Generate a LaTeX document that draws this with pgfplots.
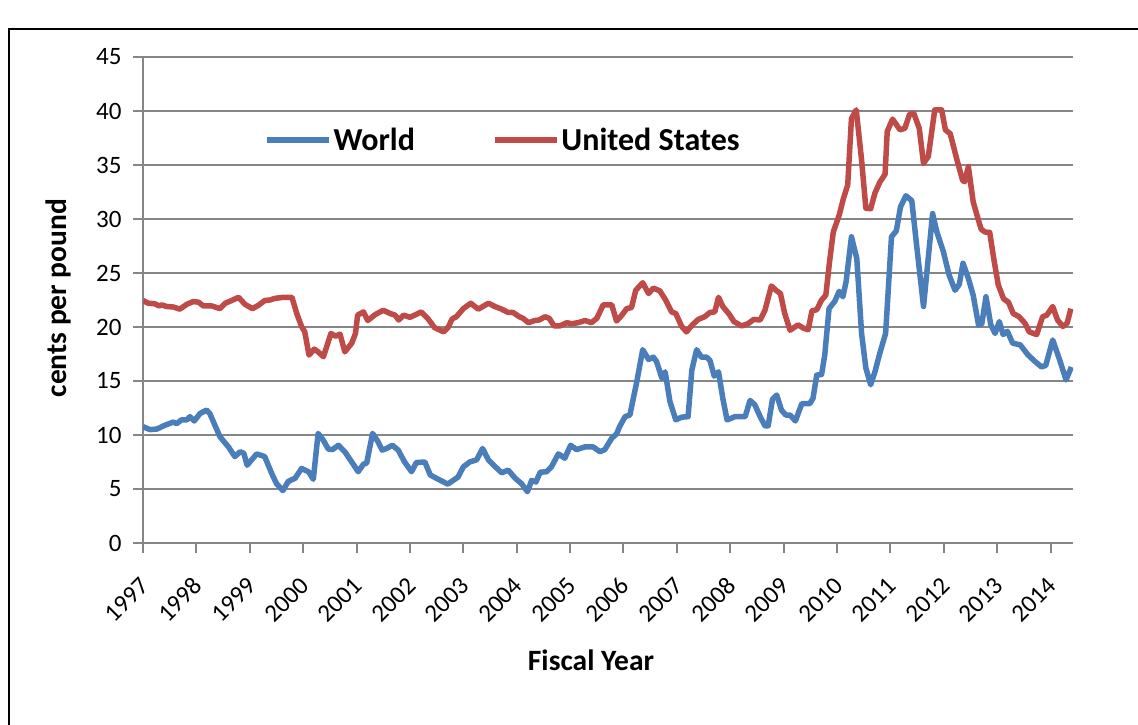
\documentclass[border=0pt]{standalone}
\usepackage{pgfplots}
\pgfplotsset{compat=1.18}
\usepackage{fontspec}
\setmainfont{Carlito}
\definecolor{worldblue}{HTML}{4A7EBB}
\definecolor{usred}{HTML}{BE4B48}
\definecolor{gridgray}{HTML}{868686}
\begin{document}
\begin{tikzpicture}[x=1pt,y=1pt]
\draw[line width=2.2pt] (9,-30) rectangle (1170,696);
\begin{axis}[
  at={(143pt,182pt)}, anchor=south west,
  scale only axis, width=930pt, height=486pt,
  xmin=1997, xmax=2014.42, ymin=0, ymax=45,
  axis lines*=left,
  axis line style={gridgray, line width=2pt},
  xtick={1997,1998,1999,2000,2001,2002,2003,2004,2005,2006,2007,2008,2009,2010,2011,2012,2013,2014},
  xticklabels={1997,1998,1999,2000,2001,2002,2003,2004,2005,2006,2007,2008,2009,2010,2011,2012,2013,2014},
  ytick={0,5,10,15,20,25,30,35,40,45},
  yticklabels={0,5,10,15,20,25,30,35,40,45},
  tick align=outside, major tick length=10pt,
  tick style={gridgray, line width=2pt},
  ymajorgrids, grid style={gridgray, line width=2pt},
  ticklabel style={font=\fontsize{25}{30}\selectfont, text=black},
  xticklabel style={xshift=4pt, yshift=-26pt, rotate=45, anchor=east},
  yticklabel style={xshift=-8pt},
  xlabel={Fiscal Year},
  ylabel={cents per pound},
  xlabel style={at={(axis description cs:0.4817,-0.2407)}, anchor=center, font=\fontsize{29.5}{35}\selectfont\bfseries},
  ylabel style={at={(axis description cs:-0.0914,0.504)}, anchor=center, font=\fontsize{29.5}{35}\selectfont\bfseries},
  legend columns=2,
  legend style={draw=none, fill=none, inner sep=0pt,
    at={(axis description cs:0.130,0.829)}, anchor=west,
    font=\fontsize{32}{38}\selectfont\bfseries,
    /tikz/every even column/.append style={column sep=75pt}},
  legend image code/.code={\draw[#1] (0pt,0pt) -- (62pt,0pt);},
  every axis plot/.append style={line width=5.5pt, line join=round},
]
\addplot[worldblue] coordinates {
(1997.00,10.77) (1997.13,10.5) (1997.26,10.55) (1997.41,10.9) (1997.57,11.2) (1997.63,11.05)
(1997.72,11.4) (1997.82,11.4) (1997.88,11.7) (1997.96,11.3) (1998.07,12.0) (1998.19,12.3)
(1998.25,12.0) (1998.44,9.85) (1998.60,8.9) (1998.72,8.0) (1998.82,8.45) (1998.89,8.3)
(1998.95,7.2) (1999.13,8.25) (1999.28,8.0) (1999.41,6.45) (1999.50,5.5) (1999.62,4.85)
(1999.72,5.7) (1999.85,6.0) (1999.97,6.9) (2000.10,6.6) (2000.19,5.9) (2000.28,10.15)
(2000.38,9.5) (2000.47,8.7) (2000.55,8.65) (2000.66,9.05) (2000.78,8.45) (2000.91,7.5)
(2001.03,6.6) (2001.13,7.3) (2001.19,7.4) (2001.30,10.15) (2001.40,9.4) (2001.48,8.6)
(2001.56,8.75) (2001.67,9.05) (2001.78,8.6) (2001.90,7.5) (2002.03,6.6) (2002.12,7.45)
(2002.28,7.5) (2002.38,6.3) (2002.53,5.9) (2002.71,5.45) (2002.81,5.8) (2002.90,6.1)
(2003.00,7.05) (2003.12,7.5) (2003.25,7.7) (2003.36,8.75) (2003.47,7.7) (2003.59,7.1)
(2003.72,6.5) (2003.84,6.75) (2003.97,6.0) (2004.09,5.5) (2004.20,4.75) (2004.28,5.8)
(2004.36,5.65) (2004.44,6.55) (2004.56,6.6) (2004.65,7.05) (2004.78,8.25) (2004.90,7.85)
(2005.01,9.05) (2005.12,8.65) (2005.28,8.9) (2005.43,8.9) (2005.56,8.45) (2005.65,8.65)
(2005.78,9.7) (2005.87,10.1) (2005.93,10.8) (2006.03,11.7) (2006.12,11.85) (2006.25,14.95)
(2006.36,17.9) (2006.47,17.0) (2006.56,17.2) (2006.62,16.8) (2006.72,15.25) (2006.78,15.85)
(2006.87,13.1) (2006.98,11.4) (2007.09,11.65) (2007.21,11.7) (2007.28,16.0) (2007.37,17.9)
(2007.46,17.2) (2007.56,17.2) (2007.62,16.9) (2007.70,15.45) (2007.78,15.85) (2007.86,13.4)
(2007.94,11.4) (2008.09,11.7) (2008.28,11.7) (2008.37,13.2) (2008.46,12.8) (2008.56,11.7)
(2008.65,10.85) (2008.71,10.85) (2008.79,13.3) (2008.87,13.7) (2008.96,12.3) (2009.04,11.85)
(2009.12,11.85) (2009.22,11.3) (2009.34,12.9) (2009.49,12.9) (2009.55,13.4) (2009.62,15.55)
(2009.71,15.6) (2009.77,17.4) (2009.85,21.7) (2009.96,22.4) (2010.04,23.3) (2010.11,22.8)
(2010.17,24.2) (2010.27,28.35) (2010.37,26.35) (2010.46,19.4) (2010.54,16.2) (2010.63,14.65)
(2010.71,15.85) (2010.80,17.55) (2010.91,19.4) (2011.02,28.35) (2011.11,28.9) (2011.19,31.15)
(2011.29,32.15) (2011.40,31.7) (2011.49,27.6) (2011.62,21.9) (2011.79,30.5) (2011.87,28.8)
(2011.99,27.0) (2012.10,24.8) (2012.21,23.4) (2012.29,23.95) (2012.36,25.9) (2012.46,24.5)
(2012.55,22.95) (2012.65,20.2) (2012.71,20.25) (2012.79,22.8) (2012.88,20.2) (2012.96,19.4)
(2013.04,20.5) (2013.11,19.3) (2013.19,19.6) (2013.29,18.5) (2013.43,18.35) (2013.58,17.4)
(2013.71,16.8) (2013.83,16.3) (2013.91,16.45) (2014.04,18.8) (2014.16,17.1) (2014.29,15.1)
(2014.39,16.3)
};
\addlegendentry{World}
\addplot[usred] coordinates {
(1997.00,22.45) (1997.10,22.2) (1997.22,22.15) (1997.30,21.95) (1997.35,22.05) (1997.44,21.9)
(1997.57,21.85) (1997.69,21.65) (1997.82,22.1) (1997.94,22.35) (1998.04,22.3) (1998.13,21.95)
(1998.29,21.95) (1998.44,21.7) (1998.54,22.2) (1998.66,22.45) (1998.79,22.75) (1998.91,22.1)
(1999.05,21.7) (1999.16,22.0) (1999.28,22.45) (1999.38,22.5) (1999.47,22.65) (1999.63,22.75)
(1999.79,22.75) (1999.88,21.25) (1999.97,20.05) (2000.03,19.55) (2000.11,17.4) (2000.21,17.95)
(2000.28,17.7) (2000.38,17.25) (2000.52,19.4) (2000.61,19.15) (2000.69,19.35) (2000.78,17.7)
(2000.91,18.5) (2000.98,19.4) (2001.02,21.1) (2001.13,21.4) (2001.21,20.6) (2001.35,21.15)
(2001.50,21.55) (2001.63,21.25) (2001.72,21.1) (2001.79,20.65) (2001.88,21.1) (2002.00,20.9)
(2002.09,21.1) (2002.21,21.4) (2002.34,20.75) (2002.46,19.95) (2002.63,19.55) (2002.72,20.0)
(2002.79,20.75) (2002.87,20.95) (2003.00,21.7) (2003.14,22.2) (2003.28,21.65) (2003.47,22.2)
(2003.59,21.9) (2003.72,21.65) (2003.84,21.35) (2003.93,21.35) (2004.05,20.95) (2004.12,20.8)
(2004.22,20.4) (2004.34,20.6) (2004.42,20.65) (2004.53,20.95) (2004.61,20.8) (2004.70,20.1)
(2004.81,20.1) (2004.94,20.4) (2005.03,20.3) (2005.15,20.4) (2005.28,20.6) (2005.40,20.4)
(2005.50,20.8) (2005.62,22.05) (2005.78,22.05) (2005.87,20.55) (2005.97,21.1) (2006.06,21.7)
(2006.15,21.8) (2006.23,23.4) (2006.36,24.1) (2006.47,23.1) (2006.56,23.6) (2006.68,23.35)
(2006.79,22.5) (2006.90,21.4) (2006.98,21.25) (2007.09,20.05) (2007.18,19.55) (2007.29,20.2)
(2007.40,20.7) (2007.52,20.95) (2007.62,21.35) (2007.71,21.4) (2007.78,22.75) (2007.86,21.9)
(2007.97,21.25) (2008.07,20.5) (2008.21,20.1) (2008.33,20.3) (2008.44,20.7) (2008.56,20.65)
(2008.65,21.55) (2008.77,23.8) (2008.87,23.35) (2008.94,23.1) (2009.02,21.25) (2009.12,19.7)
(2009.27,20.2) (2009.37,19.9) (2009.46,19.75) (2009.53,21.5) (2009.62,21.6) (2009.71,22.5)
(2009.79,22.95) (2009.86,26.05) (2009.93,28.8) (2010.04,30.35) (2010.12,31.9) (2010.20,33.15)
(2010.27,39.3) (2010.36,40.1) (2010.46,35.45) (2010.54,31.0) (2010.63,30.95) (2010.71,32.4)
(2010.80,33.4) (2010.90,34.15) (2010.94,38.1) (2011.04,39.25) (2011.18,38.25) (2011.27,38.4)
(2011.36,39.7) (2011.44,39.75) (2011.54,38.4) (2011.62,35.15) (2011.71,35.8) (2011.83,40.1)
(2011.96,40.1) (2012.03,38.25) (2012.12,37.9) (2012.24,35.6) (2012.35,33.6) (2012.39,33.45)
(2012.46,34.85) (2012.55,31.6) (2012.63,30.2) (2012.70,29.05) (2012.77,28.8) (2012.86,28.75)
(2012.94,26.2) (2013.02,23.9) (2013.12,22.6) (2013.21,22.3) (2013.30,21.25) (2013.41,20.95)
(2013.52,20.35) (2013.60,19.55) (2013.74,19.3) (2013.85,20.95) (2013.93,21.1) (2014.04,21.9)
(2014.13,20.65) (2014.23,20.05) (2014.31,20.35) (2014.38,21.7)
};
\addlegendentry{United States}
\end{axis}
\pgfresetboundingbox
\path[use as bounding box] (0,0) rectangle (1138,725);
\end{tikzpicture}
\end{document}
